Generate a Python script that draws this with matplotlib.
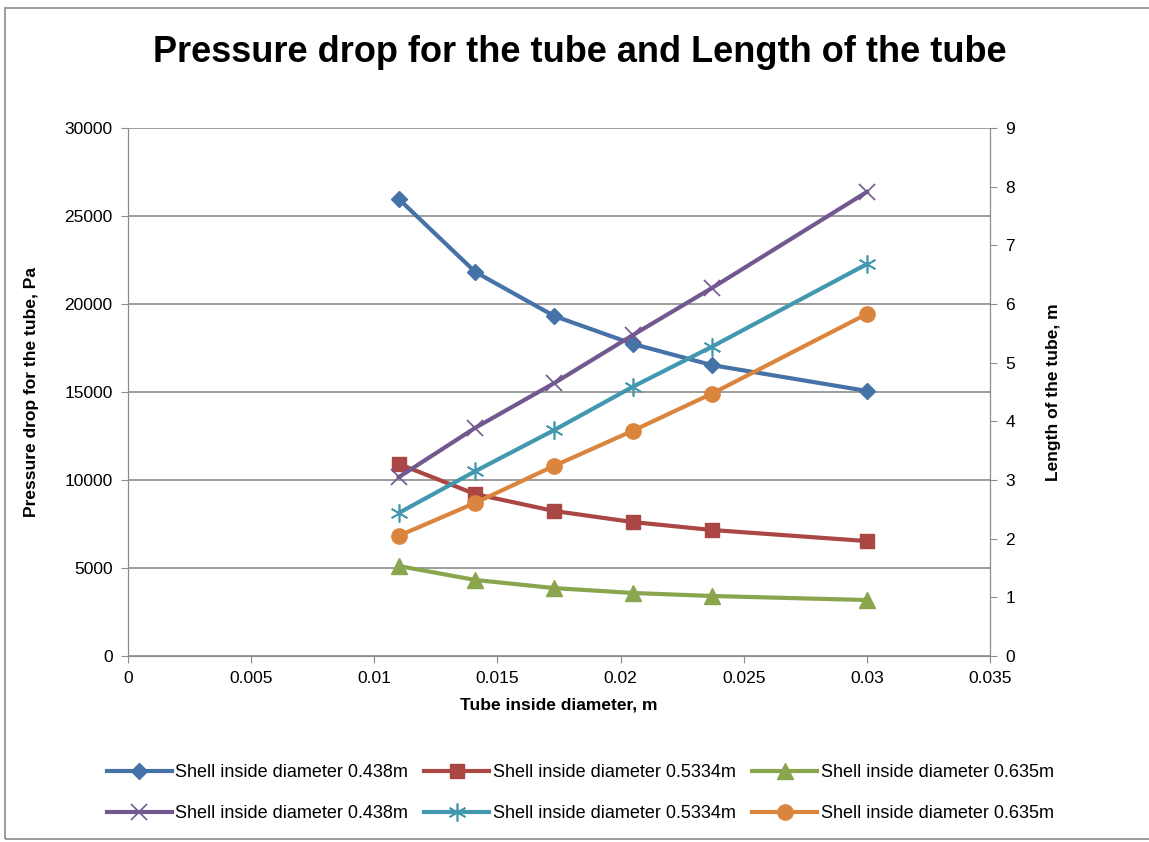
import matplotlib.pyplot as plt
from matplotlib.patches import Rectangle

plt.rcParams['font.family'] = ['Liberation Sans', 'DejaVu Sans']

# tube inside diameter, m
diam = [0.011, 0.0141, 0.0173, 0.0205, 0.0237, 0.030]

# pressure drop for the tube, Pa (left axis)
dp_0438 = [25960, 21820, 19320, 17730, 16530, 15060]
dp_05334 = [10910, 9200, 8240, 7610, 7160, 6530]
dp_0635 = [5110, 4320, 3860, 3580, 3410, 3180]

# length of the tube, m (right axis)
len_0438 = [3.05, 3.89, 4.65, 5.47, 6.27, 7.91]
len_05334 = [2.44, 3.15, 3.85, 4.59, 5.27, 6.68]
len_0635 = [2.05, 2.61, 3.24, 3.84, 4.47, 5.83]

labels = ['Shell inside diameter 0.438m', 'Shell inside diameter 0.5334m',
          'Shell inside diameter 0.635m']

fig = plt.figure(figsize=(11.49, 8.42), dpi=100)
fig.patches.append(Rectangle((0.004, 0.004), 1.2, 0.986, transform=fig.transFigure,
                             fill=False, edgecolor='#8c8c8c', linewidth=1.2))

ax = fig.add_axes([0.1114, 0.2209, 0.7502, 0.6271])
ax2 = ax.twinx()

lw = 3
h1, = ax.plot(diam, dp_0438, color='#4572a7', marker='D', ms=8, lw=lw, label=labels[0])
h2, = ax.plot(diam, dp_05334, color='#aa4643', marker='s', ms=10, lw=lw, label=labels[1])
h3, = ax.plot(diam, dp_0635, color='#89a54e', marker='^', ms=11, lw=lw, label=labels[2])
h4, = ax2.plot(diam, len_0438, color='#71588f', marker='x', ms=11, mew=1.2, lw=lw, label=labels[0])
h5, = ax2.plot(diam, len_05334, color='#4198af', marker=(6, 2, 0), ms=13, mew=1.2, lw=lw, label=labels[1])
h6, = ax2.plot(diam, len_0635, color='#db843d', marker='o', ms=11, lw=lw, label=labels[2])

ax.set_xlim(0, 0.035)
ax.set_ylim(0, 30000)
ax2.set_ylim(0, 9)
ax.set_xticks([0, 0.005, 0.01, 0.015, 0.02, 0.025, 0.03, 0.035])
ax.set_xticklabels(['0', '0.005', '0.01', '0.015', '0.02', '0.025', '0.03', '0.035'])
ax.set_yticks(range(0, 30001, 5000))
ax2.set_yticks(range(0, 10))

ax.grid(axis='y', color='#8c8c8c', linewidth=1.2)
ax.set_axisbelow(True)
for a in (ax, ax2):
    for s in a.spines.values():
        s.set_color('#8c8c8c')
    a.tick_params(labelsize=12.5, color='#8c8c8c', length=5, pad=6)
ax.spines['top'].set_visible(False)
ax2.spines['top'].set_visible(False)

ax.set_xlabel('Tube inside diameter, m', fontsize=12.5, fontweight='bold', labelpad=8)
ax.set_ylabel('Pressure drop for the tube, Pa', fontsize=12.5, fontweight='bold', labelpad=18)
ax2.set_ylabel('Length of the tube, m', fontsize=12.5, fontweight='bold', labelpad=22)

fig.suptitle('Pressure drop for the tube and Length of the tube', fontsize=26,
             fontweight='bold', y=0.958, x=0.505)

fig.legend(handles=[h1, h4, h2, h5, h3, h6], loc='center', bbox_to_anchor=(0.505, 0.058),
           ncol=3, frameon=False, fontsize=13, handlelength=3.6, handletextpad=0.2,
           columnspacing=0.9, labelspacing=1.35)

fig.savefig('out.png', dpi=100)
